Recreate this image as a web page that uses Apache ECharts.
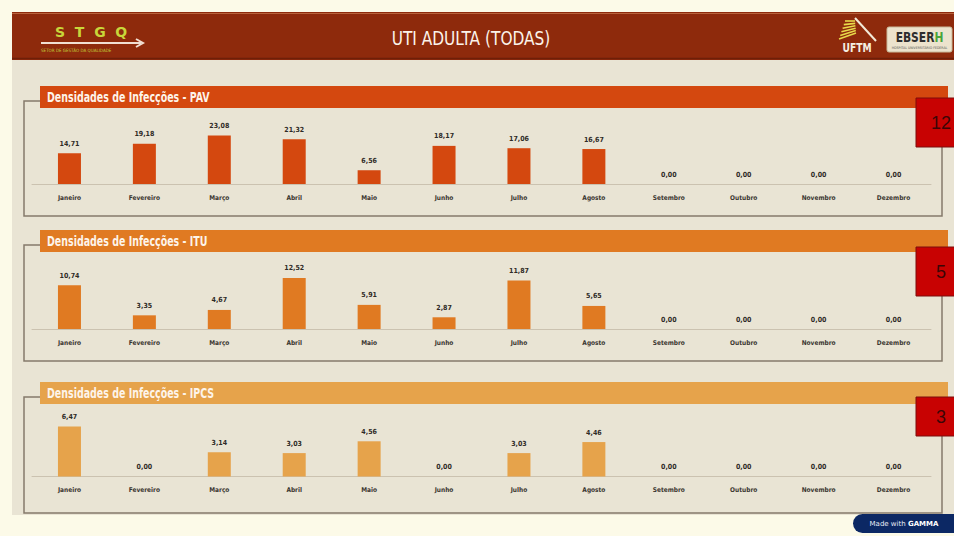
<!DOCTYPE html>
<html><head><meta charset="utf-8">
<script src="https://cdn.jsdelivr.net/npm/echarts@6/dist/echarts.min.js"></script>
<style>html,body{margin:0;padding:0;background:#fcfae8}#c{width:954px;height:536px}</style>
</head><body><div id="c"></div>
<script>
// ---- data ----
const pageTitle = 'UTI ADULTA (TODAS)';
const months = ['Janeiro','Fevereiro','Março','Abril','Maio','Junho','Julho','Agosto','Setembro','Outubro','Novembro','Dezembro'];
const panelTitles = ['Densidades de Infecções - PAV','Densidades de Infecções - ITU','Densidades de Infecções - IPCS'];
const pav  = [14.71,19.18,23.08,21.32,6.56,18.17,17.06,16.67,0,0,0,0];
const itu  = [10.74,3.35,4.67,12.52,5.91,2.87,11.87,5.65,0,0,0,0];
const ipcs = [6.47,0,3.14,3.03,4.56,0,3.03,4.46,0,0,0,0];
const counts = [12,5,3];

// ---- layout / style ----
const NF = '"DejaVu Sans Condensed","Liberation Sans",sans-serif';
const seriesData = [pav, itu, ipcs];
const colors = ['#d4480f','#e07a22','#e6a34b'];
const yMax = [28.6, 14.7, 7.77];
const baseY = [184, 329, 476.5];
const plotH = 60;
const titleTop = [86, 230, 382];
const panelBottom = [216, 361, 513];
const boxes = [[98,147],[247,296],[397,436]];

const fmt = v => v.toFixed(2).replace('.', ',');

const grids = [], xAxes = [], yAxes = [], series = [];
for (let i = 0; i < 3; i++) {
  grids.push({left: 32, right: 23, top: baseY[i] - plotH, height: plotH});
  xAxes.push({type:'category', gridIndex:i, data: months,
    axisLine:{lineStyle:{color:'#cbc2b0', width:1}}, axisTick:{show:false},
    axisLabel:{interval:0, margin:10, fontSize:6.5, fontWeight:'bold', color:'#3a3630', fontFamily:NF}});
  yAxes.push({type:'value', gridIndex:i, min:0, max:yMax[i], show:false, splitLine:{show:false}});
  series.push({type:'bar', xAxisIndex:i, yAxisIndex:i, data: seriesData[i], barWidth:23,
    itemStyle:{color:colors[i]},
    label:{show:true, position:'top', distance:6, fontSize:7, fontWeight:'bold', color:'#2e2a26', fontFamily:NF,
      formatter: p => fmt(p.value)}});
}

const g = [];
// content background
g.push({type:'rect', z:0, shape:{x:12, y:60, width:942, height:455}, style:{fill:'#e9e4d4'}});
// header
g.push({type:'rect', z:1, shape:{x:12, y:12, width:942, height:48}, style:{fill:'#8e2a0c'}});
g.push({type:'line', z:1, shape:{x1:12, y1:13.5, x2:954, y2:13.5}, style:{stroke:'#b8623c', lineWidth:1}});
g.push({type:'line', z:1, shape:{x1:12, y1:58.5, x2:954, y2:58.5}, style:{stroke:'#6e1f08', lineWidth:1.5}});
g.push({type:'text', z:3, x:471, y:38, scaleX:0.9, style:{text:pageTitle, x:0, y:0, textAlign:'center', textVerticalAlign:'middle',
  font:'19px '+NF, fill:'#fbf3ea'}});
// STGQ logo
g.push({type:'text', z:3, style:{text:'S  T  G  Q', x:55, y:32, textVerticalAlign:'middle', font:'bold 14px "DejaVu Sans",sans-serif', fill:'#c8d63a'}});
g.push({type:'line', z:3, shape:{x1:41, y1:43, x2:141, y2:43}, style:{stroke:'#f1dfd2', lineWidth:2}});
g.push({type:'polyline', z:3, shape:{points:[[136,39],[143,43],[136,47]]}, style:{stroke:'#f1dfd2', lineWidth:2, fill:null}});
g.push({type:'text', z:3, style:{text:'SETOR DE GESTÃO DA QUALIDADE', x:41, y:50, textVerticalAlign:'middle', font:'4.5px '+NF, fill:'#c2cf3c'}});
// UFTM logo
for (let k = 0; k < 6; k++) {
  g.push({type:'line', z:3, shape:{x1:839+k*1.2, y1:39-k*3.6, x2:856-k*0.2, y2:33-k*2.4}, style:{stroke:'#e8d94a', lineWidth:1.6}});
}
g.push({type:'polyline', z:3, shape:{points:[[855,18],[876,41]]}, style:{stroke:'#f3ead8', lineWidth:2, fill:null}});
g.push({type:'text', z:3, x:857, y:48, scaleX:0.85, style:{text:'UFTM', x:0, y:0, textAlign:'center', textVerticalAlign:'middle', font:'bold 12px '+NF, fill:'#f6efe2'}});
// EBSERH logo
g.push({type:'rect', z:3, shape:{x:887, y:27, width:65, height:25, r:2}, style:{fill:'#ece3cd', stroke:'#c9b99a', lineWidth:1}});
g.push({type:'text', z:4, x:919.5, y:37, scaleX:0.85, style:{text:'{a|EBSER}{b|H}', x:0, y:0, textAlign:'center', textVerticalAlign:'middle',
  rich:{a:{font:'bold 14px '+NF, fill:'#2d2d2d'}, b:{font:'bold 14px '+NF, fill:'#4aa53a'}}}});
g.push({type:'text', z:4, style:{text:'HOSPITAL UNIVERSITÁRIO FEDERAL', x:919.5, y:47.5, textAlign:'center', textVerticalAlign:'middle', font:'3.5px '+NF, fill:'#555'}});

// panels
for (let i = 0; i < 3; i++) {
  const t = titleTop[i], b = panelBottom[i];
  g.push({type:'polyline', z:1, shape:{points:[[40,t+15],[24,t+15],[24,b],[942,b],[942,t+20]]},
    style:{stroke:'#857a6b', lineWidth:1.5, fill:null}});
  g.push({type:'rect', z:2, shape:{x:40, y:t, width:908, height:22}, style:{fill:colors[i]}});
  g.push({type:'text', z:3, x:47, y:t+11.5, scaleX:0.78, style:{text:panelTitles[i], x:0, y:0, textVerticalAlign:'middle',
    font:'bold 13.5px '+NF, fill:'#fdf4ea'}});
  const bx = boxes[i];
  g.push({type:'rect', z:4, shape:{x:916, y:bx[0], width:50, height:bx[1]-bx[0]}, style:{fill:'#c80202', stroke:'#7d0c0c', lineWidth:1}});
  g.push({type:'text', z:5, style:{text:String(counts[i]), x:941, y:(bx[0]+bx[1])/2, textAlign:'center', textVerticalAlign:'middle',
    font:'18px "Liberation Sans",sans-serif', fill:'#3b0606'}});
}
// badge
g.push({type:'rect', z:3, shape:{x:853, y:514, width:110, height:19, r:9.5}, style:{fill:'#0c2864'}});
g.push({type:'text', z:4, style:{text:'{a|Made with }{b|GAMMA}', x:904, y:523.5, textAlign:'center', textVerticalAlign:'middle',
  rich:{a:{font:'7px "DejaVu Sans",sans-serif', fill:'#e8ecf5'}, b:{font:'bold 7px "DejaVu Sans",sans-serif', fill:'#ffffff'}}}});

const chart = echarts.init(document.getElementById('c'), null, {renderer:'svg', width:954, height:536});
chart.setOption({
  backgroundColor:'#fcfae8',
  animation:false,
  grid: grids, xAxis: xAxes, yAxis: yAxes, series: series,
  graphic: g
});
</script>
</body></html>
